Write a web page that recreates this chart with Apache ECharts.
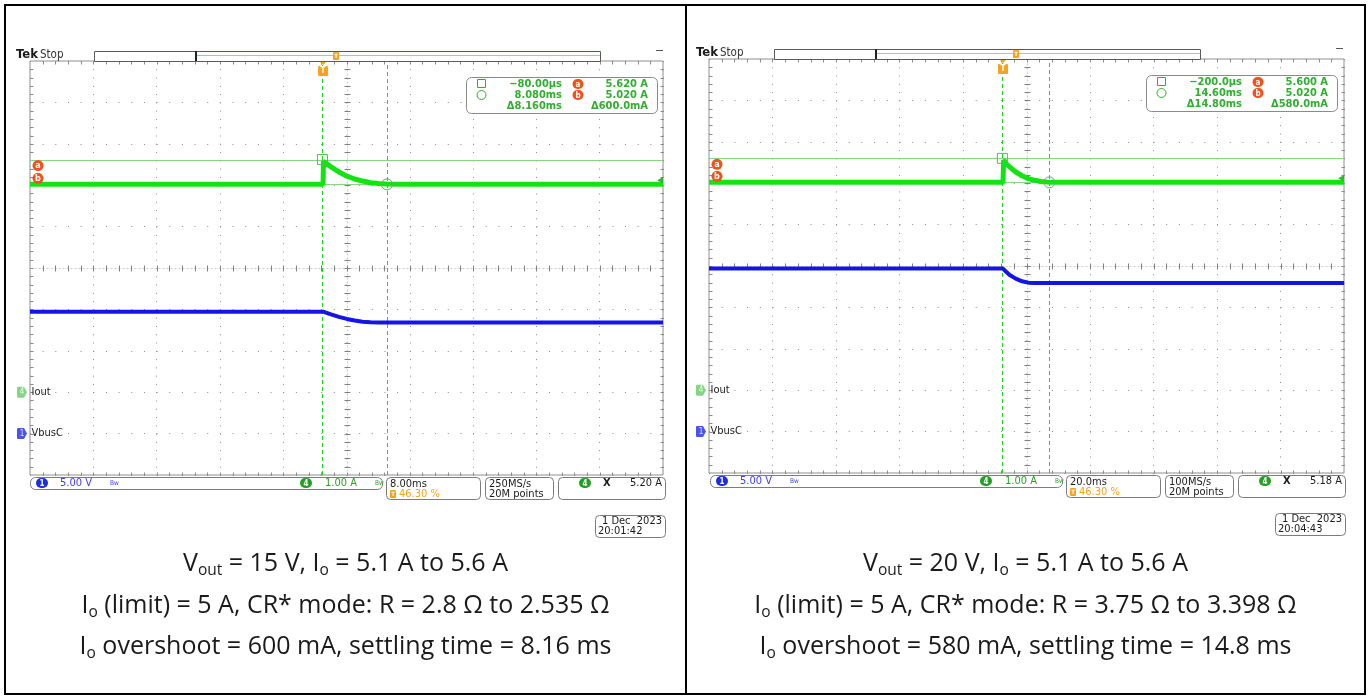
<!DOCTYPE html>
<html>
<head>
<meta charset="utf-8">
<title>Load step: Iout / VbusC</title>
<script src="https://cdn.jsdelivr.net/npm/echarts@6/dist/echarts.min.js"></script>
<style>
  html, body { margin: 0; padding: 0; background: #fff; }
  #chart { width: 1370px; height: 698px; }
</style>
</head>
<body>
<div id="chart"></div>
<script>
// ---------- Captured waveforms (time in ms relative to the trigger) ----------
const leftTimeMs  = [-37.04, 0, 0.05, 1, 2, 3, 4, 5, 6, 7, 8, 10, 42.96];
const leftIoutA   = [5.02, 5.02, 5.58, 5.44, 5.32, 5.22, 5.15, 5.10, 5.06, 5.04, 5.03, 5.02, 5.02];
const leftVbusV   = [14.73, 14.73, 14.71, 14.40, 14.10, 13.85, 13.65, 13.52, 13.45, 13.42, 13.41, 13.41, 13.41];

const rightTimeMs = [-92.6, 0, 0.2, 1, 2, 4, 6, 8, 10, 12, 15, 20, 107.4];
const rightIoutA  = [5.02, 5.02, 5.56, 5.47, 5.40, 5.27, 5.18, 5.11, 5.07, 5.04, 5.02, 5.02, 5.02];
const rightVbusV  = [19.69, 19.69, 19.65, 19.30, 18.95, 18.48, 18.15, 17.99, 17.94, 17.94, 17.94, 17.94, 17.94];

// ---------- Cursors (time cursors in ms, amplitude cursors in A) ----------
const leftCursorTimeMs  = [-0.08, 8.08];
const leftCursorLevelA  = [5.62, 5.02];
const rightCursorTimeMs = [-0.2, 14.6];
const rightCursorLevelA = [5.60, 5.02];

// ---------- Scope settings ----------
const timePerDivMs   = [8, 20];
const timeDivLabel   = ['8.00ms', '20.0ms'];
const triggerPosPct  = [46.30, 46.30];
const triggerLevelA  = [5.12, 5.12];
const ioutAxisRangeA = [-2, 8];     // 1.00 A/div, 10 divisions
const vbusAxisRangeV = [-5, 45];    // 5.00 V/div, 10 divisions
const ch1Scale       = '5.00 V';
const ch4Scale       = '1.00 A';
const sampleRate     = ['250MS/s', '100MS/s'];
const recordLength   = ['20M points', '20M points'];
const ch4Readout     = ['5.20 A', '5.18 A'];
const captureDate    = ['1 Dec  2023', '1 Dec  2023'];
const captureTime    = ['20:01:42', '20:04:43'];

// ---------- Captions under each capture ----------
const captionLine1 = ['V{sub|out} = 15 V, I{sub|o} = 5.1 A to 5.6 A', 'V{sub|out} = 20 V, I{sub|o} = 5.1 A to 5.6 A'];
const captionLine2 = ['I{sub|o} (limit) = 5 A, CR* mode: R = 2.8 Ω to 2.535 Ω', 'I{sub|o} (limit) = 5 A, CR* mode: R = 3.75 Ω to 3.398 Ω'];
const captionLine3 = ['I{sub|o} overshoot = 600 mA, settling time = 8.16 ms', 'I{sub|o} overshoot = 580 mA, settling time = 14.8 ms'];

// ---------- Layout ----------
const panels = [
  { grid: { left: 30, top: 61, width: 633, height: 414 }, ox: 0, oy: 0, barEnd: 600, cx: 345.5,
    t: leftTimeMs, iout: leftIoutA, vbus: leftVbusV, curT: leftCursorTimeMs, curA: leftCursorLevelA },
  { grid: { left: 709, top: 59, width: 635, height: 414 }, ox: 680, oy: -2, barEnd: 520, cx: 1025.5,
    t: rightTimeMs, iout: rightIoutA, vbus: rightVbusV, curT: rightCursorTimeMs, curA: rightCursorLevelA }
];

const FONT_TEK = '"DejaVu Sans Condensed", "DejaVu Sans", sans-serif';
const FONT_CAP = '"Open Sans", "Noto Sans", sans-serif';
const GREEN_TRACE = '#12e412';
const GREEN_TEXT = '#2fae2f';
const GREEN_CURSOR = '#86d686';
const GREEN_DASH = '#1ed41e';
const BLUE_TRACE = '#1414e6';
const BLUE_TEXT = '#3d3df2';
const ORANGE = '#f5a31f';
const RED = '#f0521c';

// Tek-style readout formatting
function fmtTime(ms) {
  if (Math.abs(ms) < 1) return (ms * 1000).toPrecision(4).replace('-', '\u2212') + 'µs';
  return ms.toPrecision(4).replace('-', '\u2212') + 'ms';
}
function fmtAmp(a) {
  if (Math.abs(a) < 1) return (a * 1000).toPrecision(4) + 'mA';
  return a.toFixed(3) + ' A';
}

const crisp = v => Math.round(v) + 0.5;

// Graticule: center cross and edge ticks every 1/5 division
function graticule(tMin, tMax, yMin, yMax) {
  return function (params, api) {
    const kids = [];
    const dx = (tMax - tMin) / 50, dy = (yMax - yMin) / 50;
    const tc = (tMin + tMax) / 2, yc = (yMin + yMax) / 2;
    const P = (x, y) => api.coord([x, y]);
    const seg = (x1, y1, x2, y2, c, dash) => kids.push({
      type: 'line',
      shape: { x1: crisp(x1), y1: crisp(y1), x2: crisp(x2), y2: crisp(y2) },
      style: { stroke: c, lineWidth: 1, lineDash: dash || null }
    });
    const a = P(tMin, yc), b = P(tMax, yc), c = P(tc, yMin), d = P(tc, yMax);
    seg(a[0], a[1], b[0], b[1], '#cccccc', [2, 2]);
    seg(c[0], c[1], d[0], d[1], '#cccccc', [2, 2]);
    for (let j = 1; j < 50; j++) {
      const x = P(tMin + j * dx, yc);
      seg(x[0], x[1] - 3, x[0], x[1] + 3, '#808080');
      const top = P(tMin + j * dx, yMax), bot = P(tMin + j * dx, yMin);
      seg(top[0], top[1], top[0], top[1] + 3, '#8a8a8a');
      seg(bot[0], bot[1] - 3, bot[0], bot[1], '#8a8a8a');
      const y = P(tc, yMin + j * dy);
      seg(y[0] - 3, y[1], y[0] + 3, y[1], '#808080');
      const l = P(tMin, yMin + j * dy), r = P(tMax, yMin + j * dy);
      seg(l[0], l[1], l[0] + 3, l[1], '#8a8a8a');
      seg(r[0] - 3, r[1], r[0], r[1], '#8a8a8a');
    }
    return { type: 'group', children: kids };
  };
}

// Cursor lines: two amplitude cursors (solid) and two time cursors (dashed)
function cursorLines(tMin, tMax, yMin, yMax) {
  return function (params, api) {
    const t0 = api.value(0), t1 = api.value(1), a0 = api.value(2), a1 = api.value(3);
    const P = (x, y) => api.coord([x, y]);
    const kids = [];
    [a0, a1].forEach(a => {
      const l = P(tMin, a), r = P(tMax, a);
      kids.push({ type: 'line', shape: { x1: l[0], y1: crisp(l[1]), x2: r[0], y2: crisp(r[1]) },
        style: { stroke: GREEN_CURSOR, lineWidth: 1 } });
    });
    [t0, t1].forEach(t => {
      const b = P(t, yMin), u = P(t, yMax);
      kids.push({ type: 'line', shape: { x1: crisp(b[0]), y1: b[1], x2: crisp(u[0]), y2: u[1] },
        style: { stroke: GREEN_DASH, lineWidth: 1, lineDash: [4, 3] } });
    });
    return { type: 'group', children: kids };
  };
}

const option = {
  animation: false,
  backgroundColor: '#ffffff',
  grid: [], xAxis: [], yAxis: [], series: [], graphic: []
};

const chPath = 'path://M0,1 Q0,0 1,0 L7,0 L10,5 L7,10 L1,10 Q0,10 0,9 Z';
const trigPath = 'path://M2,0 L8,0 L5,3 Z M1,4 L9,4 Q10,4 10,5 L10,13 Q10,14 9,14 L1,14 Q0,14 0,13 L0,5 Q0,4 1,4 Z';

panels.forEach((p, i) => {
  const tMin = -triggerPosPct[i] / 100 * 10 * timePerDivMs[i];
  const tMax = tMin + 10 * timePerDivMs[i];
  const hStep = p.grid.width / 50, vStep = p.grid.height / 50;

  option.grid.push(Object.assign({ show: true, borderColor: '#8e8e8e', borderWidth: 1, backgroundColor: 'transparent', outerBoundsMode: 'none', containLabel: false }, p.grid));

  option.xAxis.push({
    type: 'value', gridIndex: i, min: tMin, max: tMax, interval: timePerDivMs[i],
    axisLine: { show: false }, axisTick: { show: false }, axisLabel: { show: false },
    splitLine: { show: true, lineStyle: { color: '#8c8c8c', width: 1, type: [1, vStep - 1] } }
  });
  option.yAxis.push({
    type: 'value', gridIndex: i, min: ioutAxisRangeA[0], max: ioutAxisRangeA[1], interval: 1,
    axisLine: { show: false }, axisTick: { show: false }, axisLabel: { show: false },
    splitLine: { show: true, lineStyle: { color: '#8c8c8c', width: 1, type: [1, hStep - 1] } }
  });
  option.yAxis.push({
    type: 'value', gridIndex: i, min: vbusAxisRangeV[0], max: vbusAxisRangeV[1], interval: 5,
    axisLine: { show: false }, axisTick: { show: false }, axisLabel: { show: false }, splitLine: { show: false }
  });

  const yI = 2 * i, yV = 2 * i + 1;

  // graticule
  option.series.push({
    type: 'custom', xAxisIndex: i, yAxisIndex: yI, silent: true, z: 1, clip: false,
    data: [[tMin, ioutAxisRangeA[0]]],
    renderItem: graticule(tMin, tMax, ioutAxisRangeA[0], ioutAxisRangeA[1])
  });

  // cursors
  option.series.push({
    type: 'custom', xAxisIndex: i, yAxisIndex: yI, silent: true, z: 2, clip: false,
    encode: { x: [0, 1], y: [2, 3] },
    data: [[p.curT[0], p.curT[1], p.curA[0], p.curA[1]]],
    renderItem: cursorLines(tMin, tMax, ioutAxisRangeA[0], ioutAxisRangeA[1])
  });
  option.series.push({
    type: 'line', xAxisIndex: i, yAxisIndex: yI, z: 2, silent: true,
    data: [[tMin, p.curA[1]]], showSymbol: false, lineStyle: { opacity: 0 },
    markPoint: {
      silent: true, animation: false, label: { show: false },
      data: [
        { coord: [p.curT[0], p.curA[0]], symbol: 'rect', symbolSize: 10, itemStyle: { color: 'rgba(0,0,0,0)', borderColor: '#58b858', borderWidth: 1 } },
        { coord: [p.curT[1], p.curA[1]], symbol: 'circle', symbolSize: 11, itemStyle: { color: 'rgba(0,0,0,0)', borderColor: '#58b858', borderWidth: 1 } }
      ]
    }
  });

  // VbusC (channel 1)
  option.series.push({
    type: 'line', name: 'VbusC', xAxisIndex: i, yAxisIndex: yV, z: 3, silent: true,
    data: p.t.map((t, k) => [t, p.vbus[k]]), symbol: 'none',
    lineStyle: { color: BLUE_TRACE, width: 4 },
    markPoint: {
      silent: true, animation: false,
      data: [
        { coord: [tMin, 0], symbol: chPath, symbolSize: [10, 11], symbolOffset: [-8, 0], itemStyle: { color: '#4a55e8' },
          label: { show: true, position: 'inside', formatter: '1', color: '#dfe2ff', fontSize: 8, fontFamily: FONT_TEK } },
        { coord: [tMin, 0], symbol: 'rect', symbolSize: 1, itemStyle: { color: 'rgba(0,0,0,0)' },
          label: { show: true, position: 'right', distance: 1, formatter: 'VbusC', color: '#222', fontSize: 11, fontFamily: FONT_TEK } }
      ]
    }
  });

  // Iout (channel 4)
  option.series.push({
    type: 'line', name: 'Iout', xAxisIndex: i, yAxisIndex: yI, z: 4, silent: true,
    data: p.t.map((t, k) => [t, p.iout[k]]), symbol: 'none',
    lineStyle: { color: GREEN_TRACE, width: 5 },
    markPoint: {
      silent: true, animation: false,
      data: [
        { coord: [tMin, 0], symbol: chPath, symbolSize: [10, 11], symbolOffset: [-8, 0], itemStyle: { color: '#86d486' },
          label: { show: true, position: 'inside', formatter: '4', color: '#e8f8e8', fontSize: 8, fontFamily: FONT_TEK } },
        { coord: [tMin, 0], symbol: 'rect', symbolSize: 1, itemStyle: { color: 'rgba(0,0,0,0)' },
          label: { show: true, position: 'right', distance: 1, formatter: 'Iout', color: '#222', fontSize: 11, fontFamily: FONT_TEK } },
        { coord: [tMin, p.curA[0]], symbol: 'circle', symbolSize: 11, symbolOffset: [8, 6], itemStyle: { color: RED },
          label: { show: true, position: 'inside', formatter: 'a', color: '#fff', fontSize: 9, fontWeight: 'bold', fontFamily: FONT_TEK } },
        { coord: [tMin, p.curA[1]], symbol: 'circle', symbolSize: 11, symbolOffset: [8, -6], itemStyle: { color: RED },
          label: { show: true, position: 'inside', formatter: 'b', color: '#fff', fontSize: 9, fontWeight: 'bold', fontFamily: FONT_TEK } },
        { coord: [0, ioutAxisRangeA[1]], symbol: trigPath, symbolSize: [10, 14], symbolOffset: [0, 8], itemStyle: { color: ORANGE },
          label: { show: true, position: 'inside', offset: [0, 2], formatter: 'T', color: '#fff', fontSize: 8, fontWeight: 'bold', fontFamily: FONT_TEK } },
        { coord: [tMax, triggerLevelA[i]], symbol: 'triangle', symbolRotate: 90, symbolSize: [6, 6], symbolOffset: [-3, 0], itemStyle: { color: '#2cb82c' },
          label: { show: false } }
      ]
    }
  });

  // ---------- Scope screen furniture ----------
  const ox = p.ox, oy = p.oy;
  const els = [];
  const text = (x, y, s, size, color, o) => els.push({
    type: 'text', x: x + ox, y: y + oy, z: 101,
    style: Object.assign({ text: s, fill: color, fontSize: size, fontFamily: FONT_TEK, fontWeight: 'normal', align: 'left', verticalAlign: 'middle' }, o || {})
  });
  const rect = (x, y, w, h, r, stroke, fill, lw) => els.push({
    type: 'rect', z: 100, shape: { x: x + ox + 0.5, y: y + oy + 0.5, width: w, height: h, r: r },
    style: { stroke: stroke, fill: fill, lineWidth: lw || 1 }
  });
  const seg = (x1, y1, x2, y2, stroke, lw) => els.push({
    type: 'line', z: 100, shape: { x1: x1 + ox, y1: y1 + oy, x2: x2 + ox, y2: y2 + oy },
    style: { stroke: stroke, lineWidth: lw || 1 }
  });
  const disc = (cx, cy, label, fill, w) => {
    els.push({ type: 'rect', z: 100, shape: { x: cx + ox - (w || 11) / 2, y: cy + oy - 5, width: w || 11, height: 10, r: 5 }, style: { fill: fill } });
    text(cx, cy + 0.5, label, 8, '#fff', { align: 'center', fontWeight: 'bold' });
  };

  // header
  text(16, 55, 'Tek', 13, '#1a1a1a', { fontWeight: 'bold' });
  text(40, 55, 'Stop', 11.5, '#333');
  rect(94, 51, p.barEnd - 94, 10, 0, '#5a5a5a', '#fff');
  seg(196, 51, 196, 61, '#222', 2);
  seg(197, 55.5, p.barEnd, 55.5, '#90d890', 1);
  els.push({ type: 'rect', z: 101, shape: { x: 333 + ox, y: 52 + oy, width: 6, height: 8, r: 1 }, style: { fill: ORANGE } });
  text(336, 56.5, 'T', 6, '#fff', { align: 'center', fontWeight: 'bold' });
  seg(656, 50.5, 663, 50.5, '#555', 1);

  // cursor readout
  rect(466, 77, 191, 36, 5, '#8a8a8a', '#fff');
  els.push({ type: 'rect', z: 101, shape: { x: 477.5 + ox, y: 79.5 + oy, width: 8, height: 8 }, style: { stroke: GREEN_TEXT, fill: 'none', lineWidth: 1 } });
  els.push({ type: 'circle', z: 101, shape: { cx: 481.5 + ox, cy: 95 + oy, r: 4.5 }, style: { stroke: GREEN_TEXT, fill: 'none', lineWidth: 1 } });
  const ro = { align: 'right', fontWeight: 'bold' };
  text(562, 84, fmtTime(p.curT[0]), 11, GREEN_TEXT, ro);
  text(562, 95, fmtTime(p.curT[1]), 11, GREEN_TEXT, ro);
  text(562, 106, '\u0394' + fmtTime(p.curT[1] - p.curT[0]), 11, GREEN_TEXT, ro);
  disc(578, 84, 'a', RED, 11);
  disc(578, 95, 'b', RED, 11);
  text(648, 84, fmtAmp(p.curA[0]), 11, GREEN_TEXT, ro);
  text(648, 95, fmtAmp(p.curA[1]), 11, GREEN_TEXT, ro);
  text(648, 106, '\u0394' + fmtAmp(p.curA[0] - p.curA[1]), 11, GREEN_TEXT, ro);

  // status bar
  rect(30, 477, 352, 12, 5, '#7c7c7c', '#fff');
  disc(42, 483, '1', '#1c2fe0', 12);
  text(60, 483, ch1Scale, 11, BLUE_TEXT);
  text(110, 483, 'Bw', 6.5, BLUE_TEXT);
  disc(306, 483, '4', '#23a023', 12);
  text(325, 483, ch4Scale, 11, '#2a9f2a');
  text(375, 483, 'Bw', 6.5, '#2a9f2a');

  rect(386, 477, 94, 22, 4, '#7c7c7c', '#fff');
  text(390, 484, timeDivLabel[i], 11, '#1a1a1a');
  els.push({ type: 'rect', z: 101, shape: { x: 390 + ox, y: 490 + oy, width: 6, height: 8, r: 1 }, style: { fill: ORANGE } });
  text(393, 494.5, 'T', 6, '#fff', { align: 'center', fontWeight: 'bold' });
  text(399, 494.5, triggerPosPct[i].toFixed(2) + ' %', 11, ORANGE);

  rect(485, 477, 68, 22, 4, '#7c7c7c', '#fff');
  text(489, 484, sampleRate[i], 11, '#1a1a1a');
  text(489, 494.5, recordLength[i], 11, '#1a1a1a');

  rect(558, 477, 107, 22, 4, '#7c7c7c', '#fff');
  disc(585, 483, '4', '#23a023', 12);
  text(603, 483, 'X', 11, '#1a1a1a', { fontWeight: 'bold' });
  text(662, 483, ch4Readout[i], 11, '#1a1a1a', { align: 'right' });

  rect(595, 515, 70, 22, 4, '#7c7c7c', '#fff');
  text(662, 521, captureDate[i], 11, '#1a1a1a', { align: 'right' });
  text(598, 531.5, captureTime[i], 11, '#1a1a1a');

  option.graphic.push(...els);

  // captions
  const capRich = {
    n: { fontSize: 25, fontFamily: FONT_CAP, fill: '#1a1a1a', lineHeight: 34, verticalAlign: 'middle' },
    sub: { fontSize: 15.5, fontFamily: FONT_CAP, fill: '#1a1a1a', lineHeight: 16, verticalAlign: 'bottom', padding: [0, 0, 2, 0] }
  };
  [captionLine1[i], captionLine2[i], captionLine3[i]].forEach((s, k) => {
    const txt = s.replace(/(^|\})([^{]+)/g, (m, a, b) => a + '{n|' + b + '}');
    option.graphic.push({
      type: 'text', x: p.cx, y: [564, 606, 647][k], z: 101,
      style: { text: txt, rich: capRich, fontSize: 25, fontFamily: FONT_CAP, align: 'center', verticalAlign: 'middle', fill: '#1a1a1a' }
    });
  });
});

// table frame around the two captures
option.graphic.push(
  { type: 'rect', z: 102, shape: { x: 5, y: 5, width: 1360, height: 689 }, style: { stroke: '#000', fill: 'none', lineWidth: 2 } },
  { type: 'line', z: 102, shape: { x1: 686, y1: 5, x2: 686, y2: 694 }, style: { stroke: '#000', lineWidth: 2 } }
);

const chart = echarts.init(document.getElementById('chart'), null, { renderer: 'canvas' });
chart.setOption(option);
</script>
</body>
</html>
